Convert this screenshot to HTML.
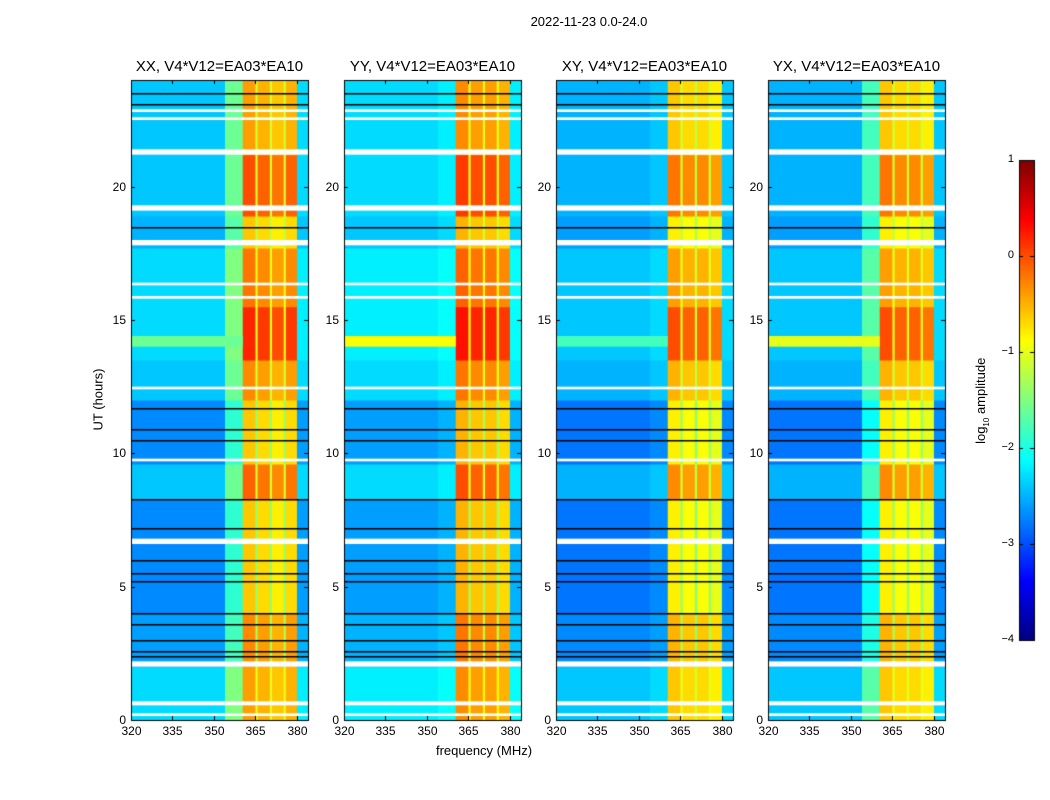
<!DOCTYPE html>
<html><head><meta charset="utf-8"><style>
body{margin:0;background:#fff;font-family:"Liberation Sans","DejaVu Sans",sans-serif;}
#root{position:relative;width:1050px;height:800px;overflow:hidden;background:#fff}
.t{position:absolute;white-space:nowrap;color:#000}
canvas{position:absolute;left:0;top:0}
</style></head><body>
<div id="root">
<canvas id="cv" width="1050" height="800"></canvas>
<div class="t" style="left:489px;top:14px;width:200px;text-align:center;font-size:13px">2022-11-23 0.0-24.0</div>
<div class="t" style="left:384px;top:743px;width:200px;text-align:center;font-size:13px">frequency (MHz)</div>
<div class="t" style="left:48px;top:392px;width:100px;text-align:center;font-size:13px;transform:rotate(-90deg)">UT (hours)</div>
<div class="t" style="left:922px;top:392px;width:120px;text-align:center;font-size:13px;transform:rotate(-90deg)">log<sub style="font-size:8px">10</sub> amplitude</div>
<div id="labels"></div>
</div>
<script>
// ---- data ----
const panelTitles = ["XX, V4*V12=EA03*EA10","YY, V4*V12=EA03*EA10","XY, V4*V12=EA03*EA10","YX, V4*V12=EA03*EA10"];
const bandEdges = [320,354,360.4,365,365.8,370.2,371,375.2,376,380,384];
const rfiBands = [0,0,1,0,1,0,1,0,1,0];
const levelsXX = [-2.4,-1.6,-0.1,-1.1,-0.2,-1.1,-0.3,-1.1,-0.2,-2.3];
const levelsYY = [-2.3,-2.2,0.0,-1.0,-0.1,-1.0,-0.1,-1.0,-0.2,-2.2];
const levelsXY = [-2.5,-2.4,-0.3,-1.1,-0.4,-1.2,-0.4,-1.1,-0.5,-2.4];
const levelsYX = [-2.5,-1.8,-0.3,-1.1,-0.4,-1.1,-0.4,-1.1,-0.5,-2.4];
const timeSegStart = [0,2.2,4,8.3,9.6,12,13.5,15.5,17.7,19,21.2];
const timeSegEnd   = [2,4,8.3,9.6,12,13.5,15.5,17.7,18.9,21.2,24];
const rfiOffset    = [-0.3,-0.2,-0.5,0.0,-0.5,-0.2,0.3,-0.1,-0.5,0.1,-0.3];
const bgOffset     = [0.1,-0.2,-0.3,0.0,-0.3,0.0,0.1,0.1,-0.1,0.0,0.0];
const whiteStart = [0.15,0.55,2.0,6.6,9.7,12.4,15.8,16.3,17.8,19.1,21.2,22.5,22.8];
const whiteEnd   = [0.25,0.7,2.2,6.8,9.8,12.5,15.9,16.4,18.0,19.3,21.4,22.6,22.9];
const blackLines = [2.4,2.6,3.0,3.6,4.0,5.2,5.5,6.0,7.2,8.3,10.5,10.9,11.7,18.5,23.1,23.5];
const streakStart = 14.0, streakEnd = 14.4;
const streakLevels = [-1.6,-0.9,-1.8,-1.0];
const xTicks = [320,335,350,365,380];
const yTicks = [0,5,10,15,20];
const cbTicks = [1,0,-1,-2,-3,-4];
// ---- layout ----
const panelLeft = [131,344,556,768];
const pw = 177, top0 = 80, bot0 = 720;
const fMin = 320, fMax = 384, tMax = 24;
const cv = document.getElementById('cv'), ctx = cv.getContext('2d');
const xs = (p,f) => panelLeft[p] + (f - fMin) / (fMax - fMin) * pw;
const ys = h => bot0 - h / tMax * (bot0 - top0);
function jet(v){
  let t = Math.max(0, Math.min(1, (v + 4) / 5));
  const c = x => Math.round(255 * Math.max(0, Math.min(1, x)));
  return `rgb(${c(1.5 - Math.abs(4*t - 3))},${c(1.5 - Math.abs(4*t - 2))},${c(1.5 - Math.abs(4*t - 1))})`;
}
const allLevels = [levelsXX, levelsYY, levelsXY, levelsYX];
const labels = document.getElementById('labels');
function addText(txt, l, t, w, align, size, name){
  const d = document.createElement('div');
  d.className = 't';
  
  
  d.style.cssText = `left:${l}px;top:${t}px;width:${w}px;text-align:${align};font-size:${size}px`;
  d.textContent = txt;
  labels.appendChild(d);
}
for (let p = 0; p < 4; p++){
  const lv = allLevels[p];
  for (let s = 0; s < timeSegStart.length; s++){
    const y1 = ys(timeSegEnd[s]), y2 = ys(s > 0 ? timeSegEnd[s-1] : 0);
    for (let b = 0; b < lv.length; b++){
      let v = lv[b] + (rfiBands[b] ? rfiOffset[s] : bgOffset[s]);
      ctx.fillStyle = jet(v);
      const x1 = xs(p, bandEdges[b]), x2 = xs(p, bandEdges[b+1]);
      ctx.fillRect(x1, y1, x2 - x1 + 0.5, y2 - y1 + 0.5);
    }
  }
  ctx.fillStyle = jet(streakLevels[p]);
  ctx.fillRect(xs(p, fMin), ys(streakEnd), xs(p, bandEdges[2]) - xs(p, fMin), ys(streakStart) - ys(streakEnd));
  ctx.fillStyle = '#fff';
  for (let i = 0; i < whiteStart.length; i++){
    ctx.fillRect(panelLeft[p], ys(whiteEnd[i]), pw, ys(whiteStart[i]) - ys(whiteEnd[i]));
  }
  ctx.fillStyle = '#000';
  for (let i = 0; i < blackLines.length; i++){
    ctx.fillRect(panelLeft[p], Math.round(ys(blackLines[i])), pw, 1.5);
  }
  ctx.strokeStyle = '#000'; ctx.lineWidth = 1;
  ctx.strokeRect(panelLeft[p] + 0.5, top0 + 0.5, pw, bot0 - top0);
  for (const f of xTicks){
    const x = Math.round(xs(p, f)) + 0.5;
    ctx.beginPath(); ctx.moveTo(x, bot0); ctx.lineTo(x, bot0 - 4); ctx.moveTo(x, top0); ctx.lineTo(x, top0 + 4); ctx.stroke();
    addText(String(f), x - 20, bot0 + 4, 40, 'center', 12, 'x-tick-label');
  }
  for (const h of yTicks){
    const y = Math.round(ys(h)) + 0.5;
    ctx.beginPath(); ctx.moveTo(panelLeft[p], y); ctx.lineTo(panelLeft[p] + 4, y); ctx.moveTo(panelLeft[p] + pw, y); ctx.lineTo(panelLeft[p] + pw - 4, y); ctx.stroke();
    addText(String(h), panelLeft[p] - 45, y - 8, 40, 'right', 12, 'y-tick-label');
  }
  addText(panelTitles[p], panelLeft[p] - 30, 58, pw + 60, 'center', 15, 'panel-title');
}
// colorbar
const cbL = 1019, cbW = 15, cbT = 160, cbB = 640;
for (let y = cbT; y < cbB; y++){
  const v = 1 - (y - cbT) / (cbB - cbT) * 5;
  ctx.fillStyle = jet(v); ctx.fillRect(cbL, y, cbW, 1);
}
ctx.strokeRect(cbL + 0.5, cbT + 0.5, cbW, cbB - cbT);
for (const v of cbTicks){
  const y = Math.round(cbT + (1 - v) / 5 * (cbB - cbT)) + 0.5;
  ctx.beginPath(); ctx.moveTo(cbL, y); ctx.lineTo(cbL + 4, y); ctx.moveTo(cbL + cbW, y); ctx.lineTo(cbL + cbW - 4, y); ctx.stroke();
  addText(v < 0 ? '\u2212' + (-v) : String(v), cbL - 45, y - 8, 40, 'right', 11, 'colorbar-tick-label');
}
</script>
</body></html>
